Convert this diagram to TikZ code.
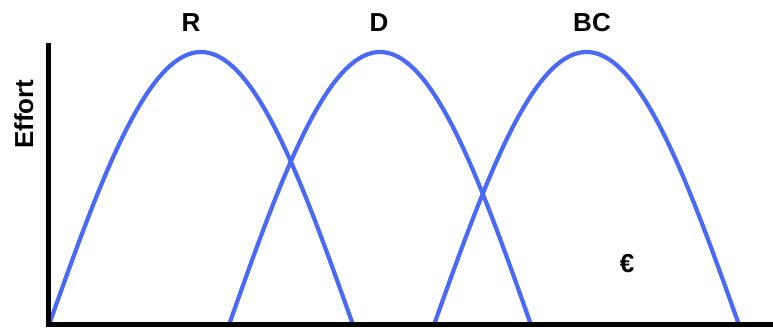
\documentclass[tikz,border=0pt]{standalone}
\usepackage{fontspec}
\setmainfont{Liberation Sans}
\definecolor{curveblue}{RGB}{74,106,245}
\begin{document}
\begin{tikzpicture}[x=1pt,y=-1pt,
  curve/.style={draw=curveblue,line width=4.2pt,line cap=round,line join=round},
  axis/.style={draw=black,line width=5.5pt},
  lbl/.style={font=\fontsize{26}{30}\selectfont\bfseries,inner sep=0pt,anchor=base}]
\useasboundingbox (0,0) rectangle (773,327);
% curves
\draw[curve] plot[domain=0:1,samples=90,smooth] ({50+302*\x},{322-270*sin(180*\x)});
\draw[curve] plot[domain=0:1,samples=90,smooth] ({230+300*\x},{322-270*sin(180*\x)});
\draw[curve] plot[domain=0:1,samples=90,smooth] ({435+303*\x},{322-270*sin(180*\x)});
% axes
\coordinate (top) at (48.5,43);
\coordinate (bottom) at (48.5,327);
\coordinate (left) at (45.8,324.5);
\coordinate (right) at (773,324.5);
\draw[axis] (top) -- (bottom);
\draw[axis] (left) -- (right);
% labels
\node[lbl] (R) at (191,31) {R};
\node[lbl] (D) at (379,31) {D};
\node[lbl] (BC) at (592,31) {BC};
\node[lbl,rotate=90] (effort) at (33,114) {Effort};
\node[lbl] (euro) at (627,272) {€};
\end{tikzpicture}
\end{document}
